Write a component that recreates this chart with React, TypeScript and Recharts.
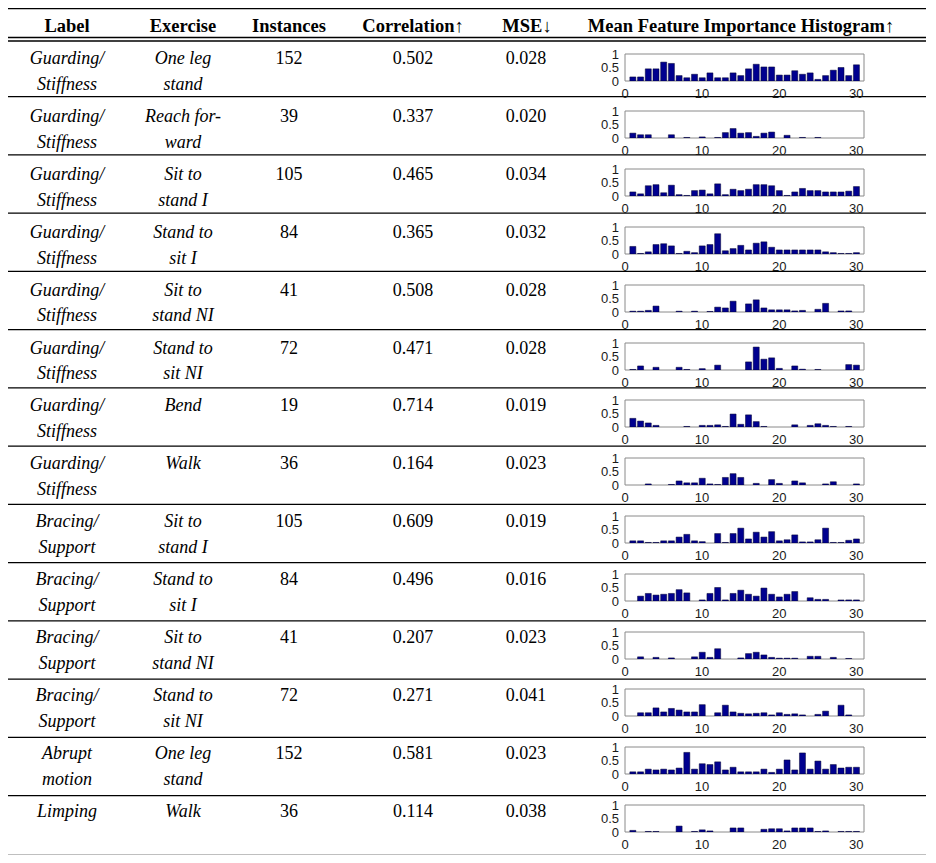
import React from 'react';
import { BarChart, Bar, XAxis, YAxis, ReferenceArea } from 'recharts';

const LABELS = [
  ['Guarding/', 'Stiffness'], ['Guarding/', 'Stiffness'], ['Guarding/', 'Stiffness'], ['Guarding/', 'Stiffness'],
  ['Guarding/', 'Stiffness'], ['Guarding/', 'Stiffness'], ['Guarding/', 'Stiffness'], ['Guarding/', 'Stiffness'],
  ['Bracing/', 'Support'], ['Bracing/', 'Support'], ['Bracing/', 'Support'], ['Bracing/', 'Support'],
  ['Abrupt', 'motion'], ['Limping'],
];
const EXERCISES = [
  ['One leg', 'stand'], ['Reach for-', 'ward'], ['Sit to', 'stand I'], ['Stand to', 'sit I'],
  ['Sit to', 'stand NI'], ['Stand to', 'sit NI'], ['Bend'], ['Walk'],
  ['Sit to', 'stand I'], ['Stand to', 'sit I'], ['Sit to', 'stand NI'], ['Stand to', 'sit NI'],
  ['One leg', 'stand'], ['Walk'],
];
const INSTANCES = ['152', '39', '105', '84', '41', '72', '19', '36', '105', '84', '41', '72', '152', '36'];
const CORRELATION = ['0.502', '0.337', '0.465', '0.365', '0.508', '0.471', '0.714', '0.164', '0.609', '0.496', '0.207', '0.271', '0.581', '0.114'];
const MSE = ['0.028', '0.020', '0.034', '0.032', '0.028', '0.028', '0.019', '0.023', '0.019', '0.016', '0.023', '0.041', '0.023', '0.038'];

const X_TICKS = [0, 10, 20, 30];
const Y_TICKS = [0, 0.5, 1];

// mean feature importance, features 1..30, one list per row
const IMPORTANCE = [
  [0.15, 0.15, 0.45, 0.45, 0.7, 0.65, 0.2, 0.12, 0.25, 0.12, 0.3, 0.12, 0.12, 0.3, 0.2, 0.45, 0.62, 0.52, 0.52, 0.22, 0.22, 0.38, 0.25, 0.3, 0.06, 0.2, 0.4, 0.5, 0.2, 0.6],
  [0.18, 0.12, 0.12, 0, 0, 0.12, 0, 0.02, 0, 0.04, 0, 0.02, 0.2, 0.35, 0.18, 0.2, 0.06, 0.18, 0.22, 0, 0.1, 0, 0.02, 0, 0.02, 0, 0, 0, 0, 0],
  [0.15, 0.08, 0.38, 0.42, 0.12, 0.4, 0.05, 0.02, 0.2, 0.22, 0.08, 0.45, 0.05, 0.25, 0.2, 0.25, 0.42, 0.42, 0.38, 0.2, 0.02, 0.15, 0.28, 0.2, 0.2, 0.15, 0.15, 0.15, 0.18, 0.35],
  [0.28, 0.02, 0.08, 0.35, 0.38, 0.3, 0.02, 0.1, 0.05, 0.3, 0.35, 0.75, 0.12, 0.2, 0.32, 0.15, 0.4, 0.45, 0.25, 0.15, 0.15, 0.15, 0.15, 0.15, 0.15, 0.08, 0.05, 0.02, 0.02, 0.05],
  [0.03, 0.03, 0.06, 0.22, 0, 0, 0.03, 0, 0.03, 0, 0.02, 0.18, 0.15, 0.4, 0, 0.3, 0.45, 0.15, 0.08, 0.08, 0.08, 0.04, 0.06, 0, 0.1, 0.32, 0, 0.04, 0.04, 0],
  [0.02, 0.15, 0, 0.1, 0, 0, 0.1, 0.02, 0, 0.05, 0, 0.18, 0, 0, 0, 0.3, 0.85, 0.4, 0.45, 0.06, 0, 0.15, 0.03, 0, 0.02, 0, 0, 0, 0.2, 0.18],
  [0.32, 0.22, 0.15, 0.06, 0, 0, 0, 0.02, 0, 0.06, 0.06, 0.08, 0.02, 0.48, 0.1, 0.45, 0.2, 0.02, 0, 0, 0, 0.08, 0, 0.06, 0.12, 0.06, 0.02, 0, 0.02, 0],
  [0, 0, 0.04, 0, 0, 0.02, 0.15, 0.08, 0.08, 0.25, 0.04, 0.02, 0.28, 0.42, 0.28, 0, 0.06, 0, 0.2, 0.06, 0, 0.15, 0.08, 0, 0, 0.04, 0.12, 0, 0, 0.04],
  [0.08, 0.08, 0.02, 0.02, 0.08, 0.08, 0.22, 0.32, 0.08, 0.05, 0, 0.35, 0.02, 0.35, 0.55, 0.15, 0.4, 0.22, 0.42, 0.08, 0.12, 0.3, 0.04, 0.04, 0.12, 0.55, 0.02, 0.02, 0.1, 0.15],
  [0, 0.18, 0.28, 0.22, 0.25, 0.28, 0.42, 0.3, 0, 0.04, 0.28, 0.5, 0.04, 0.28, 0.4, 0.25, 0.18, 0.48, 0.25, 0.15, 0.25, 0.35, 0, 0.12, 0.06, 0.06, 0, 0.04, 0.04, 0.04],
  [0, 0.08, 0, 0.06, 0, 0.04, 0, 0, 0.08, 0.25, 0.06, 0.38, 0, 0, 0.04, 0.2, 0.25, 0.15, 0.06, 0.03, 0.03, 0.03, 0, 0.1, 0.1, 0, 0.06, 0, 0.02, 0],
  [0, 0.12, 0.12, 0.3, 0.15, 0.28, 0.22, 0.15, 0.15, 0.42, 0, 0.12, 0.4, 0.15, 0.1, 0.08, 0.1, 0.12, 0.04, 0.12, 0.06, 0.08, 0.04, 0, 0.06, 0.18, 0, 0.4, 0.04, 0],
  [0.08, 0.08, 0.18, 0.15, 0.18, 0.15, 0.22, 0.8, 0.18, 0.38, 0.35, 0.45, 0.15, 0.25, 0.08, 0.08, 0.08, 0.18, 0.06, 0.18, 0.52, 0.15, 0.78, 0.18, 0.48, 0.18, 0.35, 0.22, 0.25, 0.25],
  [0.06, 0, 0.02, 0.02, 0, 0, 0.22, 0, 0.02, 0.08, 0.04, 0, 0, 0.15, 0.15, 0, 0, 0.1, 0.12, 0.12, 0.04, 0.15, 0.15, 0.15, 0.02, 0.04, 0, 0.02, 0.02, 0.02],
];

const SERIF = '"Liberation Serif", "DejaVu Serif", serif';
const SANS = '"Liberation Sans", Arial, sans-serif';
const COL = { label: 67, exercise: 183, instances: 289, corr: 413, mse: 526 };
const ROW0 = 38.45;
const ROW_H = 58.25;

function Hist({ values, top }: { values: number[]; top: number }) {
  const data = values.map((v, i) => ({ x: i + 1, v }));
  return (
    <div style={{ position: 'absolute', left: 583, top: top - 13, width: 289, height: 61 }}>
      <BarChart width={289} height={61} data={data} barSize={6}
                margin={{ top: 13, right: 8, left: 12, bottom: 0 }}>
        <XAxis dataKey="x" type="number" domain={[0, 31]} ticks={X_TICKS} allowDataOverflow interval={0}
               tickLine={false} axisLine={false} tickSize={6} height={21}
               tick={{ fill: '#1a1a1a', fontSize: 13, fontFamily: SANS }} />
        <YAxis type="number" domain={[0, 1]} ticks={Y_TICKS} allowDataOverflow interval={0}
               tickLine={false} axisLine={false} width={30} tickSize={4}
               tick={{ fill: '#1a1a1a', fontSize: 13, fontFamily: SANS }} />
        <ReferenceArea x1={0} x2={31} y1={0} y2={1} fill="none" stroke="#8a8a8a" strokeWidth={1} ifOverflow="visible" />
        <Bar dataKey="v" fill="#00008f" stroke="#000030" strokeWidth={0.5} isAnimationActive={false} />
      </BarChart>
    </div>
  );
}

function Lines({ x, y, lines, italic }: { x: number; y: number; lines: string[]; italic?: boolean }) {
  return (
    <>
      {lines.map((t, k) => (
        <text key={k} x={x} y={y + k * 25.8} textAnchor="middle" fontStyle={italic ? 'italic' : 'normal'}>{t}</text>
      ))}
    </>
  );
}

export default function App() {
  const seps = INSTANCES.slice(1).map((_, i) => ROW0 + (i + 1) * ROW_H);
  return (
    <div style={{ position: 'relative', width: 936, height: 863, margin: -8, background: '#fff' }}>
      <svg width={936} height={863} style={{ position: 'absolute', left: 0, top: 0 }}
           fontFamily={SERIF} fontSize={18} fill="#000">
        <line x1={3} x2={926} y1={5} y2={5} stroke="#000" strokeWidth={1.3} />
        <line x1={3} x2={926} y1={8.5} y2={8.5} stroke="#000" strokeWidth={1.3} />
        <line x1={3} x2={926} y1={37.5} y2={37.5} stroke="#000" strokeWidth={1.3} />
        <line x1={3} x2={926} y1={41} y2={41} stroke="#000" strokeWidth={1.3} />
        {seps.map((y, i) => (
          <line key={i} x1={3} x2={926} y1={y} y2={y} stroke="#000" strokeWidth={1.2} />
        ))}
        <line x1={3} x2={926} y1={855.5} y2={855.5} stroke="#000" strokeWidth={1.3} />
        <line x1={3} x2={926} y1={859} y2={859} stroke="#000" strokeWidth={1.3} />

        <g fontWeight="bold" fontSize={18.5} textAnchor="middle">
          <text x={COL.label} y={32.3}>Label</text>
          <text x={COL.exercise} y={32.3}>Exercise</text>
          <text x={COL.instances} y={32.3}>Instances</text>
          <text x={413} y={32.3}>Correlation↑</text>
          <text x={527} y={32.3}>MSE↓</text>
          <text x={741} y={32.3}>Mean Feature Importance Histogram↑</text>
        </g>

        {INSTANCES.map((n, i) => {
          const y = 64 + i * 57.9;
          return (
            <g key={i}>
              <Lines x={COL.label} y={y} lines={LABELS[i]} italic />
              <Lines x={COL.exercise} y={y} lines={EXERCISES[i]} italic />
              <text x={COL.instances} y={y} textAnchor="middle">{n}</text>
              <text x={COL.corr} y={y} textAnchor="middle">{CORRELATION[i]}</text>
              <text x={COL.mse} y={y} textAnchor="middle">{MSE[i]}</text>
            </g>
          );
        })}
      </svg>
      {IMPORTANCE.map((vals, i) => (
        <Hist key={i} values={vals} top={53.5 + i * 57.8} />
      ))}
    </div>
  );
}
